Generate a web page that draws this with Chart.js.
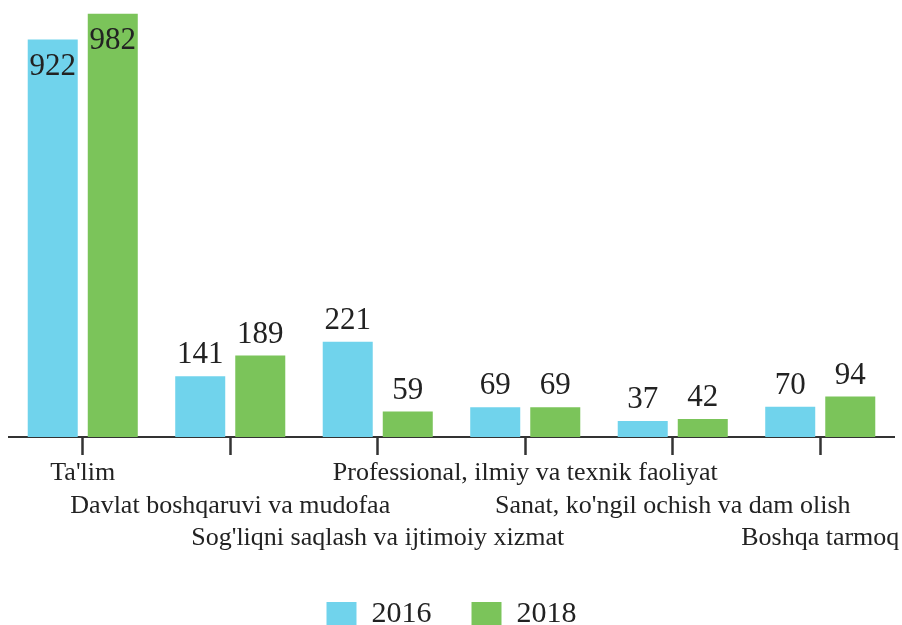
<!DOCTYPE html>
<html>
<head>
<meta charset="utf-8">
<script src="https://cdn.jsdelivr.net/npm/chart.js@4"></script>
<style>
  body { margin: 0; background: #fff; }
</style>
</head>
<body>
<canvas id="barChart" width="902" height="625"></canvas>
<script>
// Data
const categories = [
    "Ta'lim",
    "Davlat boshqaruvi va mudofaa",
    "Sog'liqni saqlash va ijtimoiy xizmat",
    "Professional, ilmiy va texnik faoliyat",
    "Sanat, ko'ngil ochish va dam olish",
    "Boshqa tarmoq"
];
const values2016 = [922, 141, 221, 69, 37, 70];
const values2018 = [982, 189, 59, 69, 42, 94];

// labels go in three staggered rows
const staggered = categories.map((c, i) => Array(i % 3).fill('').concat(c));

const serif = "'Liberation Serif', 'Times New Roman', serif";

// value labels on top of the bars (inside when the bar is too tall)
const valueLabels = {
    id: 'valueLabels',
    afterDatasetsDraw(chart) {
        const ctx = chart.ctx;
        ctx.save();
        ctx.font = '31px ' + serif;
        ctx.fillStyle = '#222';
        ctx.textAlign = 'center';
        ctx.textBaseline = 'middle';
        chart.data.datasets.forEach((ds, i) => {
            chart.getDatasetMeta(i).data.forEach((bar, j) => {
                const inside = bar.y - chart.chartArea.top < 60;
                const y = inside ? bar.y + 27 : bar.y - 21;
                ctx.fillText(ds.data[j], bar.x, y);
            });
        });
        ctx.restore();
    }
};

new Chart(document.getElementById('barChart').getContext('2d'), {
    type: 'bar',
    data: {
        labels: staggered,
        datasets: [{
            label: '2016',
            data: values2016,
            backgroundColor: '#70d3ec',
            categoryPercentage: 0.814,
            barPercentage: 0.833
        }, {
            label: '2018',
            data: values2018,
            backgroundColor: '#7bc45a',
            categoryPercentage: 0.814,
            barPercentage: 0.833
        }]
    },
    options: {
        responsive: false,
        animation: false,
        layout: { padding: { left: 9, right: 8, top: 6, bottom: -14 } },
        plugins: {
            tooltip: { enabled: false },
            legend: {
                position: 'bottom',
                labels: {
                    boxWidth: 30,
                    boxHeight: 24,
                    padding: 40,
                    color: '#222',
                    font: { family: serif, size: 30 }
                }
            }
        },
        scales: {
            x: {
                offset: true,
                afterFit(scale) { scale.height = 122; },
                grid: {
                    offset: false,
                    drawOnChartArea: false,
                    drawTicks: true,
                    tickLength: 18,
                    tickWidth: 2.5,
                    tickColor: '#333'
                },
                border: { display: true, color: '#333', width: 2 },
                ticks: {
                    autoSkip: false,
                    maxRotation: 0,
                    padding: 2,
                    color: '#222',
                    font: { family: serif, size: 26, lineHeight: 1.25 }
                }
            },
            y: {
                display: false,
                min: 0,
                max: 1000
            }
        }
    },
    plugins: [valueLabels]
});
</script>
</body>
</html>
